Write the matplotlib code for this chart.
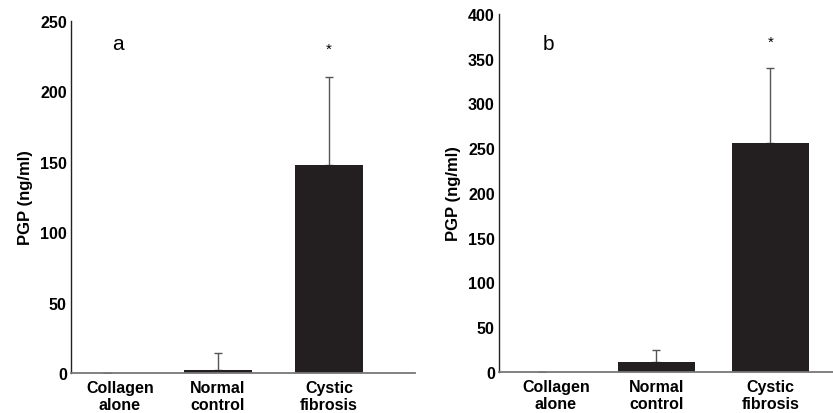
import matplotlib
matplotlib.use("Agg")
import matplotlib.pyplot as plt

# data
categories = ["Collagen\nalone", "Normal\ncontrol", "Cystic\nfibrosis"]
positions = [0, 1, 2]
label_positions = [0.12, 1, 2]  # collagen label sits a bit right of its (empty) bar

pgp_a = [0, 2, 148]
err_a = [0, 12, 62]
pgp_b = [0, 11, 256]
err_b = [0, 14, 84]

yticks_a = [0, 50, 100, 150, 200, 250]
yticks_b = [0, 50, 100, 150, 200, 250, 300, 350, 400]

plt.rcParams['font.family'] = ['Liberation Sans', 'DejaVu Sans']

BAR = "#231f20"


def draw_panel(ax, values, errs, yticks, letter, letter_xy, star_y, width, xlim):
    ax.bar(positions, values, width=width, color=BAR, zorder=2)
    ax.errorbar(positions, values, yerr=[[0] * len(errs), errs], fmt="none",
                ecolor="#555555", elinewidth=1, capsize=3, capthick=1, zorder=1)
    ax.set_ylim(yticks[0], yticks[-1])
    ax.set_xlim(*xlim)
    ax.set_yticks(yticks)
    ax.set_yticklabels([str(t) for t in yticks], fontweight="bold", fontsize=11.5)
    ax.set_xticks(label_positions)
    ax.set_xticklabels(categories, fontweight="bold", fontsize=11.5)
    ax.tick_params(axis="both", length=0)
    ax.tick_params(axis="y", pad=3)
    ax.tick_params(axis="x", pad=5)
    ax.set_ylabel("PGP (ng/ml)", fontweight="bold", fontsize=12, labelpad=5)
    for s in ["top", "right"]:
        ax.spines[s].set_visible(False)
    ax.spines["left"].set_color("#222222")
    ax.spines["left"].set_linewidth(1)
    ax.spines["bottom"].set_color("#777777")
    ax.spines["bottom"].set_linewidth(1.3)
    ax.text(letter_xy[0], letter_xy[1], letter, fontsize=15, ha="center", va="center")
    ax.text(2, star_y, "*", fontsize=11, ha="center", va="center")


fig = plt.figure(figsize=(8.33, 4.14), dpi=100)
ax_a = fig.add_axes([0.0852, 0.0966, 0.4128, 0.850])
ax_b = fig.add_axes([0.599, 0.099, 0.401, 0.865])

draw_panel(ax_a, pgp_a, err_a, yticks_a, "a", (0.1, 234), 230, 0.61, (-0.32, 2.77))
draw_panel(ax_b, pgp_b, err_b, yticks_b, "b", (0.05, 367), 369, 0.675, (-0.38, 2.55))

fig.savefig("out.png", dpi=100)
